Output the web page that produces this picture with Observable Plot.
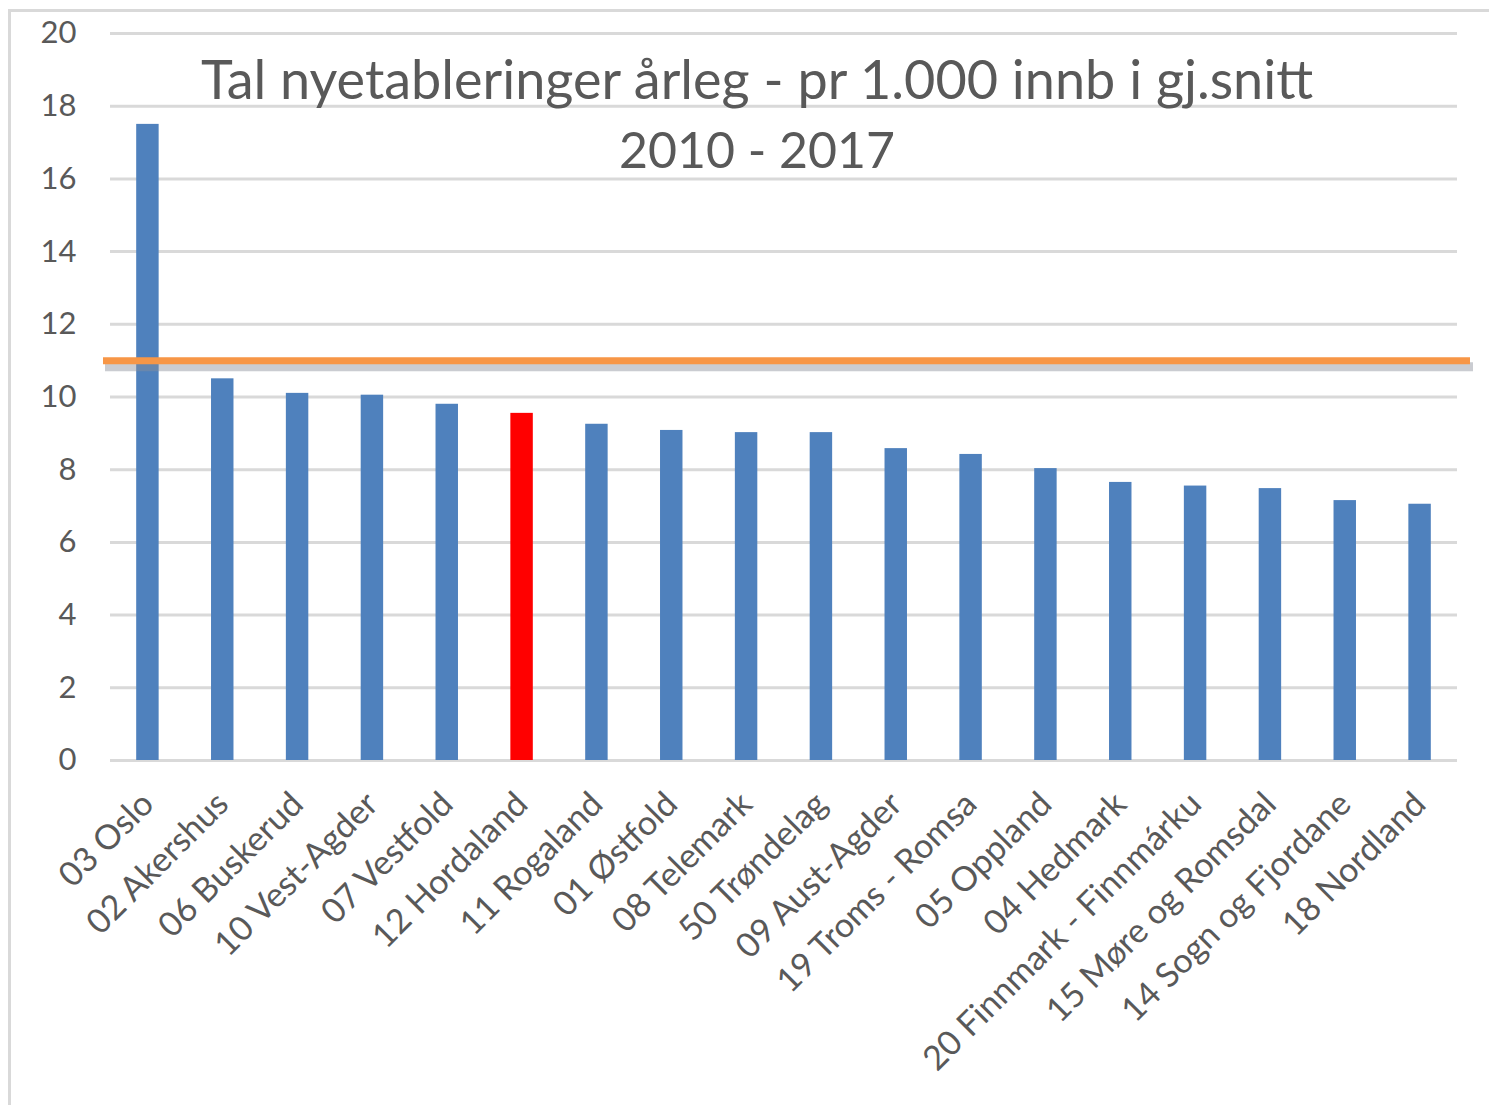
<!DOCTYPE html>
<html>
<head>
<meta charset="utf-8">
<script src="https://cdn.jsdelivr.net/npm/d3@7"></script>
<script src="https://cdn.jsdelivr.net/npm/@observablehq/plot@0.6"></script>
<style>
  html, body { margin: 0; padding: 0; background: #fff; }
  #wrap { position: relative; width: 1489px; height: 1105px; overflow: hidden; }
  #frame { position: absolute; left: 8px; top: 9px; width: 1500px; height: 1200px;
           border-top: 3px solid #d9d9d9; border-left: 3px solid #d9d9d9; }
  #chart { position: absolute; left: 0; top: 0; }
</style>
</head>
<body>
<div id="wrap"><div id="frame"></div><div id="chart"></div></div>
<script>
const regions = ["03 Oslo", "02 Akershus", "06 Buskerud", "10 Vest-Agder", "07 Vestfold", "12 Hordaland",
  "11 Rogaland", "01 Østfold", "08 Telemark", "50 Trøndelag", "09 Aust-Agder", "19 Troms - Romsa",
  "05 Oppland", "04 Hedmark", "20 Finnmark - Finnmárku", "15 Møre og Romsdal", "14 Sogn og Fjordane", "18 Nordland"];
const values = [17.5, 10.5, 10.1, 10.05, 9.8, 9.55, 9.25, 9.08, 9.02, 9.02, 8.58, 8.42, 8.03, 7.65, 7.55, 7.48, 7.15, 7.05];
const highlight = "12 Hordaland";
const average = 11.0;
const yTicks = [0, 2, 4, 6, 8, 10, 12, 14, 16, 18, 20];
const titleLines = ["Tal nyetableringer årleg - pr 1.000 innb i gj.snitt", "2010 - 2017"];

const data = regions.map((r, i) => ({region: r, value: values[i]}));

const chart = Plot.plot({
  width: 1489,
  height: 1105,
  marginLeft: 110,
  marginRight: 32,
  marginTop: 33,
  marginBottom: 345,
  style: {fontFamily: "Lato, 'Open Sans', sans-serif", fontSize: "31px", color: "#595959", background: "transparent"},
  x: {domain: regions, paddingInner: 0.7, paddingOuter: 0.35, round: false, label: null},
  y: {domain: [0, 20], label: null},
  marks: [
    Plot.ruleY(yTicks, {stroke: "#d9d9d9", strokeWidth: 3}),
    Plot.axisY({ticks: yTicks, tickSize: 0, tickPadding: 34, fontSize: 31, fill: "#595959"}),
    Plot.axisX({tickSize: 0, tickPadding: 38, tickRotate: -45, fontSize: 34, fill: "#595959"}),
    Plot.barY(data, {x: "region", y: "value", fill: d => d.region === highlight ? "#ff0000" : "#4f81bd"}),
    Plot.ruleY([average], {stroke: "#8a8f98", strokeOpacity: 0.45, strokeWidth: 9, dy: 6, insetLeft: -5, insetRight: -16, ariaLabel: "shadow"}),
    Plot.ruleY([average], {stroke: "#f79646", strokeWidth: 7, insetLeft: -7, insetRight: -13}),
    Plot.text([titleLines[0]], {frameAnchor: "top", dx: -27, dy: 27, fontSize: 54, fill: "#595959"}),
    Plot.text([titleLines[1]], {frameAnchor: "top", dx: -27, dy: 99, fontSize: 50, fill: "#595959"})
  ]
});

const svg = d3.select(chart);
const defs = svg.insert("defs", ":first-child");
defs.append("filter").attr("id", "blurShadow").attr("filterUnits", "userSpaceOnUse")
  .attr("x", 0).attr("y", 300).attr("width", 1489).attr("height", 120)
  .append("feGaussianBlur").attr("stdDeviation", 3);
svg.selectAll('g[aria-label="shadow"]').attr("filter", "url(#blurShadow)");

document.getElementById("chart").appendChild(chart);
</script>
</body>
</html>
